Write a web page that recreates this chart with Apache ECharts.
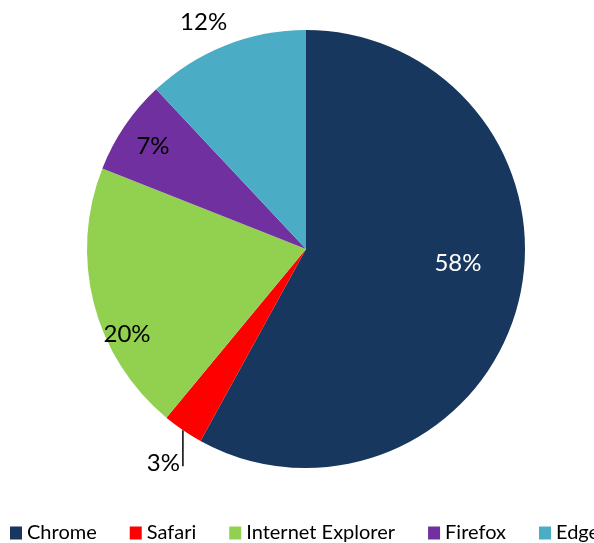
<!DOCTYPE html>
<html>
<head>
<meta charset="utf-8">
<script src="https://cdn.jsdelivr.net/npm/echarts@6/dist/echarts.min.js"></script>
<style>
html,body{margin:0;padding:0;background:#fff;}
#chart{width:594px;height:543px;}
</style>
</head>
<body>
<div id="chart"></div>
<script>
var browsers = ['Chrome', 'Safari', 'Internet Explorer', 'Firefox', 'Edge'];
var shares = [58, 3, 20, 7, 12];
var colors = ['#17375E', '#FF0000', '#92D050', '#7030A0', '#4BACC6'];

// label shifts relative to ECharts' default label placement
var labelShift = [[43, -14], [0, 0], [-70, 57], [-60, -40], [-61, -122]];
var labelColor = ['#ffffff', '#000000', '#000000', '#000000', '#000000'];

var chart = echarts.init(document.getElementById('chart'));
var FONT = 'Lato';
chart.setOption({
  animation: false,
  color: colors,
  legend: {
    top: 523,
    left: 10,
    width: 660,
    padding: 0,
    icon: 'rect',
    itemWidth: 12,
    itemHeight: 13,
    itemGap: 33,
    textStyle: { fontFamily: FONT, fontSize: 20, color: '#000', padding: [0, 0, 0, 0] },
    data: browsers
  },
  series: [{
    type: 'pie',
    center: [306, 249],
    radius: 219,
    startAngle: 90,
    clockwise: true,
    avoidLabelOverlap: false,
    label: {
      position: 'inside',
      formatter: '{c}%',
      fontFamily: FONT,
      fontSize: 24
    },
    labelLine: { show: false },
    labelLayout: function (p) {
      var i = p.dataIndex;
      if (i === 1 && p.labelLinePoints) {
        var s = p.labelLinePoints[0];
        return {
          x: s[0] - 3,
          y: s[1] + 33,
          align: 'right',
          verticalAlign: 'middle',
          labelLinePoints: [[s[0], s[1]], [s[0], s[1] + 36]]
        };
      }
      return { dx: labelShift[i][0], dy: labelShift[i][1] };
    },
    data: browsers.map(function (b, i) {
      var d = {
        name: b,
        value: shares[i],
        label: { color: labelColor[i] }
      };
      if (i === 1) {
        d.label.position = 'outside';
        d.labelLine = { show: true, length: 10, length2: 0, lineStyle: { color: '#000', width: 1.5 } };
      }
      return d;
    })
  }]
});
</script>
</body>
</html>
